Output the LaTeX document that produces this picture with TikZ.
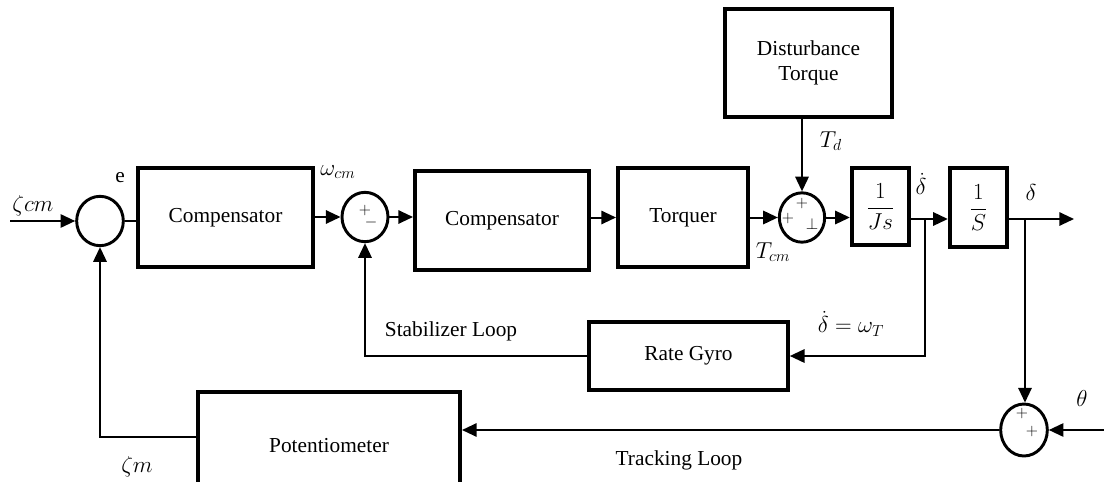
\documentclass[tikz,border=0pt]{standalone}
\usepackage{amsmath}
\usepackage{fontspec}
\setmainfont{Liberation Serif}
\usetikzlibrary{arrows.meta,shapes.geometric}
\tikzset{
  blk/.style={draw,line width=3pt,rectangle,inner sep=0pt,align=center,font=\fontsize{16}{19}\selectfont},
  sumj/.style={draw,line width=2.2pt,ellipse,inner sep=0pt},
  sig/.style={line width=1.5pt,-{Triangle[length=11pt,width=10pt]}},
  wire/.style={line width=1.5pt},
  lbl/.style={inner sep=0pt,font=\fontsize{16}{19}\selectfont},
  mlbl/.style={inner sep=0pt,font=\fontsize{18}{21}\selectfont},
  sgn/.style={inner sep=0pt,font=\fontsize{12}{14}\selectfont},
}
\begin{document}
\begin{tikzpicture}[x=0.75pt,y=-0.75pt]
\useasboundingbox (0,0) rectangle (1104,482);
\clip (0,0) rectangle (1104,482);

% blocks
\node[sumj,minimum width=35pt,minimum height=37pt] (s1) at (100,221) {};
\node[blk,minimum width=131pt,minimum height=74pt] (comp1) at (225.5,217.5) {Compensator};
\node[sumj,minimum width=34.5pt,minimum height=37pt] (s2) at (365,217) {};
\node[blk,minimum width=130.5pt,minimum height=74pt] (comp2) at (502,220.5) {Compensator};
\node[blk,minimum width=97.5pt,minimum height=74pt] (torq) at (683,217.5) {Torquer};
\node[sumj,minimum width=34pt,minimum height=37pt] (s3) at (802,217.5) {};
\node[blk,minimum width=125pt,minimum height=81pt] (dist) at (808.5,63) {Disturbance\\Torque};
\node[blk,minimum width=43pt,minimum height=58pt] (js) at (880.5,206.5) {$\dfrac{1}{Js}$};
\node[blk,minimum width=43pt,minimum height=59pt] (ss) at (978.5,207.5) {$\dfrac{1}{S}$};
\node[blk,minimum width=149pt,minimum height=51pt] (gyro) at (688.5,356) {Rate Gyro};
\node[blk,minimum width=196.5pt,minimum height=81pt] (pot) at (329,446) {Potentiometer};
\node[sumj,minimum width=35pt,minimum height=39pt] (s4) at (1024,430) {};

% junction points and free ends
\coordinate (in) at (10,221);
\coordinate (b1) at (925,219);
\coordinate (b2) at (1025,219);
\coordinate (out) at (1074,219);
\coordinate (th) at (1104,430);
\coordinate (fb) at (100,437);

% forward path
\draw[sig] (in) -- (s1.west);
\draw[wire] (s1.east) -- (comp1.west |- s1.east);
\draw[sig] (comp1.east |- s2.west) -- (s2.west);
\draw[sig] (s2.east) -- (s2.east -| comp2.west);
\draw[sig] (comp2.east |- torq.west) -- (torq.west);
\draw[sig] (torq.east |- s3.west) -- (s3.west);
\draw[sig] (dist.south -| s3.north) -- (s3.north);
\draw[sig] (s3.east) -- (s3.east -| js.west);
\draw[sig] (js.east |- b1) -- (b1) -- (b1 -| ss.west);
\draw[sig] (ss.east |- b2) -- (b2) -- (out);

% stabilizer loop
\draw[sig] (b1) |- (gyro.east);
\draw[sig] (gyro.west) -| (s2.south);

% tracking loop
\draw[sig] (b2) -- (b2 |- s4.north);
\draw[sig] (th) -- (s4.east);
\draw[sig] (s4.west) -- (s4.west -| pot.east);
\draw[sig] (pot.west |- fb) -- (fb) -- (s1.south);

% signs at the summing junctions
\node[sgn] (p2a) at (365,210) {$+$};
\node[sgn] (p2b) at (371,222) {$-$};
\node[sgn] (p3a) at (802,203) {$+$};
\node[sgn] (p3b) at (788,218) {$+$};
\node[sgn] (p3c) at (812,224) {$\perp$};
\node[sgn] (p4a) at (1022,413) {$+$};
\node[sgn] (p4b) at (1032,431) {$+$};

% signal labels
\node[mlbl] (lzcm) at (33,206) {$\zeta cm$};
\node[lbl] (le) at (120,178) {e};
\node[mlbl] (lwcm) at (338,172) {$\omega_{cm}$};
\node[mlbl] (ltd) at (831,141) {$T_d$};
\node[mlbl] (ltcm) at (773,252) {$T_{cm}$};
\node[mlbl] (lddot) at (921,184) {$\dot\delta$};
\node[mlbl] (ldel) at (1031,192) {$\delta$};
\node[mlbl] (lrate) at (851,324) {$\dot\delta=\omega_T$};
\node[lbl] (lstab) at (451,331) {Stabilizer Loop};
\node[mlbl] (lth) at (1082,398) {$\theta$};
\node[lbl] (ltrack) at (679,460) {Tracking Loop};
\node[mlbl] (lzm) at (137,467) {$\zeta m$};
\end{tikzpicture}
\end{document}
